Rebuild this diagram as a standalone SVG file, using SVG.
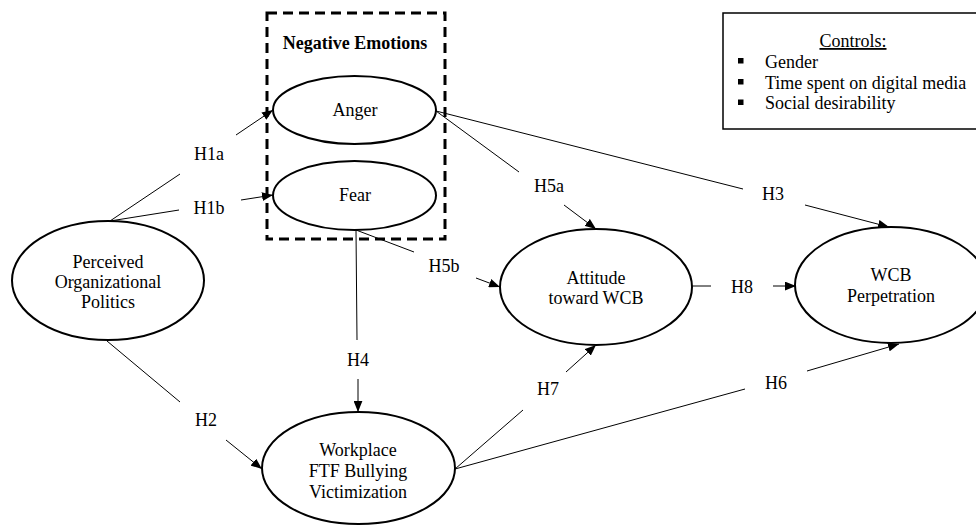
<svg xmlns="http://www.w3.org/2000/svg" width="976" height="526" viewBox="0 0 976 526">
<style>
text{font-family:"Liberation Serif","Times New Roman",serif;font-size:18px;fill:#000}
.m{text-anchor:middle}
.node{fill:#fff;stroke:#000;stroke-width:2}
.c{stroke:#000;stroke-width:1;fill:none}
.a{marker-end:url(#ah)}
</style>
<defs>
<marker id="ah" viewBox="0 0 10 8" refX="10" refY="4" markerWidth="11" markerHeight="9" markerUnits="userSpaceOnUse" orient="auto">
<path d="M0,0 L10,4 L0,8 z" fill="#000"/>
</marker>
</defs>
<rect width="976" height="526" fill="#fff"/>
<g id="negative-emotions">
<rect x="267" y="13" width="178" height="226" fill="none" stroke="#000" stroke-width="3" stroke-dasharray="10,6"/>
<text class="m" x="355" y="49" font-weight="bold">Negative Emotions</text>
</g>
<g id="controls">
<rect x="723" y="13" width="260" height="116" fill="#fff" stroke="#000" stroke-width="1.5"/>
<text class="m" x="853" y="47" text-decoration="underline">Controls:</text>
<rect x="738" y="58" width="5.5" height="5.5" fill="#000"/>
<rect x="738" y="79" width="5.5" height="5.5" fill="#000"/>
<rect x="738" y="99.5" width="5.5" height="5.5" fill="#000"/>
<text x="765" y="68">Gender</text>
<text x="765" y="89">Time spent on digital media</text>
<text x="765" y="109">Social desirability</text>
</g>
<g id="connectors">
<line class="c" x1="110" y1="221" x2="180" y2="174"/>
<line class="c a" x1="236" y1="135" x2="273" y2="110"/>
<text class="m" x="209" y="160">H1a</text>
<line class="c" x1="110" y1="221" x2="179" y2="210"/>
<line class="c a" x1="241" y1="200" x2="273" y2="195"/>
<text class="m" x="209" y="214">H1b</text>
<line class="c" x1="107" y1="341" x2="180" y2="402"/>
<line class="c a" x1="226" y1="440" x2="262" y2="469"/>
<text class="m" x="206" y="426">H2</text>
<line class="c" x1="356" y1="230" x2="357" y2="340"/>
<line class="c a" x1="358" y1="379" x2="358" y2="412"/>
<text class="m" x="358" y="366">H4</text>
<line class="c" x1="356" y1="230" x2="414" y2="252"/>
<line class="c a" x1="476" y1="278" x2="500" y2="287"/>
<text class="m" x="444" y="272">H5b</text>
<line class="c" x1="436" y1="111" x2="519" y2="172"/>
<line class="c a" x1="564" y1="205" x2="596" y2="229"/>
<text class="m" x="549" y="192">H5a</text>
<line class="c" x1="436" y1="111" x2="743" y2="189"/>
<line class="c a" x1="805" y1="205" x2="889" y2="227"/>
<text class="m" x="773" y="200">H3</text>
<line class="c" x1="692" y1="286" x2="711" y2="286"/>
<line class="c a" x1="773" y1="286" x2="796" y2="286"/>
<text class="m" x="742" y="293">H8</text>
<line class="c" x1="455" y1="469" x2="523" y2="410"/>
<line class="c a" x1="566" y1="372" x2="596" y2="345"/>
<text class="m" x="548" y="395">H7</text>
<line class="c" x1="455" y1="469" x2="745" y2="389"/>
<line class="c a" x1="807" y1="371" x2="899" y2="344"/>
<text class="m" x="776" y="389">H6</text>
</g>
<g id="anger">
<ellipse class="node" cx="354.5" cy="110" rx="81.5" ry="34"/>
<text class="m" x="355" y="116">Anger</text>
</g>
<g id="fear">
<ellipse class="node" cx="354.5" cy="195.5" rx="81.5" ry="34.5"/>
<text class="m" x="355" y="201">Fear</text>
</g>
<g id="pop">
<ellipse class="node" cx="108" cy="280.5" rx="96" ry="59.5"/>
<text class="m" x="108" y="268">Perceived</text>
<text class="m" x="108" y="288">Organizational</text>
<text class="m" x="108" y="308">Politics</text>
</g>
<g id="attitude">
<ellipse class="node" cx="596" cy="287" rx="96" ry="58"/>
<text class="m" x="596" y="284">Attitude</text>
<text class="m" x="596" y="304">toward WCB</text>
</g>
<g id="wcb">
<ellipse class="node" cx="891" cy="285" rx="96" ry="58"/>
<text class="m" x="891" y="281">WCB</text>
<text class="m" x="891" y="302">Perpetration</text>
</g>
<g id="bullying">
<ellipse class="node" cx="358.5" cy="468" rx="96.5" ry="56"/>
<text class="m" x="358" y="456">Workplace</text>
<text class="m" x="358" y="477">FTF Bullying</text>
<text class="m" x="358" y="498">Victimization</text>
</g>
</svg>
